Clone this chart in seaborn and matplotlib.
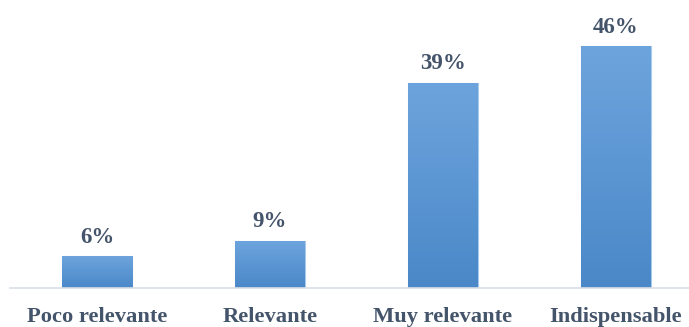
import numpy as np
import pandas as pd
import matplotlib
matplotlib.use("Agg")
import matplotlib.pyplot as plt
import seaborn as sns
from matplotlib.colors import LinearSegmentedColormap

categories = ["Poco relevante", "Relevante", "Muy relevante", "Indispensable"]
percentages = [6, 9, 39, 46]

df = pd.DataFrame({"categoria": categories, "porcentaje": percentages})

sns.set_theme(style="white")
plt.rcParams["font.family"] = ["Liberation Serif", "DejaVu Serif"]

text_color = "#44546A"

fig = plt.figure(figsize=(6.89, 3.27), dpi=100)
W, H = 689, 327
ax = fig.add_axes([10 / W, (H - 288) / H, (689 - 10) / W, 288 / H])

sns.barplot(data=df, x="categoria", y="porcentaje", ax=ax, width=70 / 173,
            color="#5B9BD5", edgecolor="#A9CBEB", linewidth=0.8, zorder=2)

ax.set_xlim((10 - 97) / 173, (689 - 97) / 173)
ax.set_ylim(0, 288 / (242 / 46))

# vertical gradient fill on each bar
grad = LinearSegmentedColormap.from_list("barra", ["#4A88C8", "#6EA4DD"])
gimg = np.linspace(0, 1, 256).reshape(-1, 1)
for patch in list(ax.patches):
    x0, y0 = patch.get_x(), patch.get_y()
    w, h = patch.get_width(), patch.get_height()
    im = ax.imshow(gimg, cmap=grad, origin="lower", aspect="auto",
                   extent=[x0, x0 + w, y0, y0 + h], zorder=2.5,
                   interpolation="bilinear")
    im.set_clip_path(patch)

for i, v in enumerate(percentages):
    ax.annotate(f"{v}%", (i, v), xytext=(0, 6), textcoords="offset points",
                ha="center", va="bottom", fontsize=16.5, fontweight="bold",
                color=text_color)

for s in ["top", "right", "left"]:
    ax.spines[s].set_visible(False)
ax.spines["bottom"].set_color("#D9DEE6")
ax.spines["bottom"].set_linewidth(1.2)
ax.set_yticks([])
ax.set_xlabel("")
ax.set_ylabel("")
ax.tick_params(axis="x", length=0, pad=13.5)
for lbl in ax.get_xticklabels():
    lbl.set_fontsize(16.2)
    lbl.set_fontweight("bold")
    lbl.set_color(text_color)

fig.savefig("out.png", dpi=100)
